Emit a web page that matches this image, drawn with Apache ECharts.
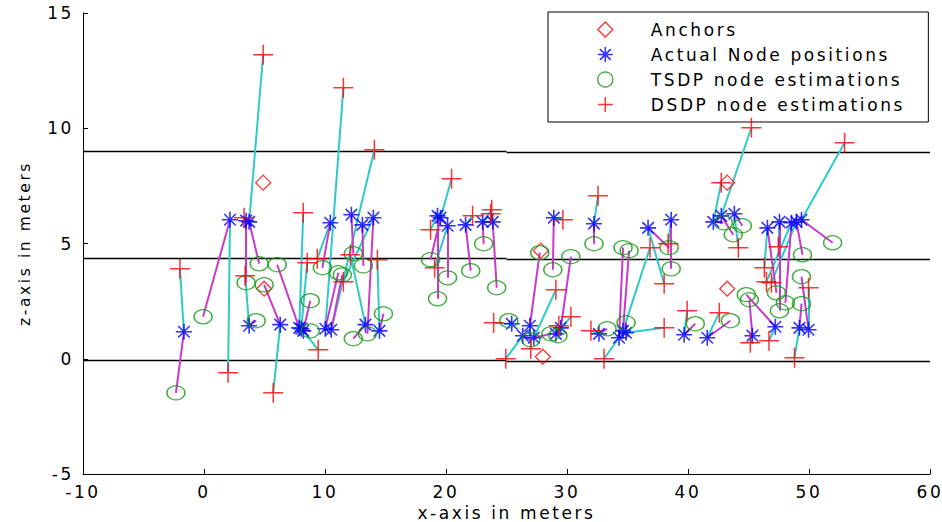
<!DOCTYPE html>
<html>
<head>
<meta charset="utf-8">
<script src="https://cdn.jsdelivr.net/npm/echarts@6/dist/echarts.min.js"></script>
<style>
  html, body { margin: 0; padding: 0; background: #fff; }
  #chart { width: 942px; height: 522px; }
  #chart text { letter-spacing: 2.6px; }
</style>
</head>
<body>
<div id="chart"></div>
<script>
// Anchor nodes (known positions), metres
const anchorX = [4.89, 4.97, 27.84, 28.00, 43.24, 43.24];
const anchorZ = [7.64, 3.04, 4.69, 0.09, 7.64, 3.04];

// True node positions
const actualX = [-1.66, 2.15, 3.48, 3.73, 3.73, 6.30, 7.87, 8.20, 8.04, 10.02, 10.52, 10.44, 12.18, 13.09, 14.00, 13.34, 14.50,
  19.30, 19.55, 20.13, 21.62, 23.03, 23.86, 25.43, 26.35, 26.93, 27.26, 28.91, 29.49, 29.08, 32.23, 32.64, 34.30, 34.63,
  34.88, 36.70, 38.61, 39.68, 41.59, 42.09, 42.75, 43.83, 45.32, 47.22, 46.56, 47.56, 48.55, 48.96, 49.38, 49.21, 49.96];
const actualZ = [1.17, 6.03, 5.99, 5.94, 1.43, 1.48, 1.34, 1.21, 1.30, 1.30, 1.26, 5.90, 6.25, 5.81, 6.12, 1.48, 1.21,
  6.20, 6.12, 5.77, 5.81, 5.94, 5.94, 1.52, 1.00, 1.43, 0.91, 6.12, 1.34, 1.08, 5.86, 1.08, 0.91, 1.21,
  1.13, 5.68, 6.03, 1.04, 0.91, 5.94, 6.20, 6.29, 1.00, 1.39, 5.68, 5.94, 5.90, 5.94, 6.03, 1.34, 1.26];

// TSDP estimates (same node order)
const tsdpX = [-2.32, -0.08, 3.48, 4.56, 4.31, 4.97, 6.05, 8.78, 8.78, 11.10, 11.43, 9.78, 12.34, 13.17, 13.50, 12.34, 14.83,
  19.30, 18.72, 20.13, 22.04, 23.11, 24.19, 25.19, 27.01, 27.75, 28.67, 28.83, 30.32, 29.25, 32.23, 33.31, 34.63, 35.13,
  34.88, 38.44, 38.61, 40.60, 43.50, 42.92, 43.74, 44.49, 45.07, 44.82, 47.31, 47.56, 48.05, 49.46, 51.95, 49.38, 49.38];
const tsdpZ = [-1.48, 1.82, 3.30, 4.12, 1.65, 3.21, 4.08, 2.52, 1.21, 3.73, 3.64, 3.95, 4.56, 4.03, 1.08, 0.87, 1.95,
  2.60, 4.30, 3.51, 3.82, 4.99, 3.08, 1.65, 0.82, 4.60, 1.08, 3.86, 4.43, 1.00, 4.99, 1.30, 4.82, 4.69,
  1.56, 4.82, 3.90, 1.52, 1.65, 5.90, 5.38, 5.77, 2.56, 2.78, 2.86, 2.08, 2.43, 4.51, 5.03, 2.39, 3.56];

// DSDP estimates (null where no estimate is drawn)
const dsdpX = [-1.99, 1.99, 3.31, 4.89, 3.40, 5.72, 8.20, 9.44, 8.53, 11.52, 14.08, 9.36, null, null, 11.52, 12.10, 14.33,
  18.72, 20.46, 19.06, 22.20, 23.78, 23.69, 23.94, 24.94, 27.01, 29.08, 29.66, 30.32, 29.33, 32.56, 31.98, 33.06, 36.86,
  38.03, 38.03, 38.36, 39.93, 42.59, 42.75, 45.24, 44.16, 45.15, 46.69, 46.31, 47.47, 46.48, 46.89, 52.94, 48.80, 49.96];
const dsdpZ = [3.90, -0.61, 6.12, 13.19, 3.60, -1.48, 6.33, 0.39, 4.16, 11.76, 9.07, 4.34, null, null, 3.34, 4.51, 4.30,
  5.60, 7.81, 3.95, 6.20, 6.46, 6.29, 1.56, 0.00, 0.43, 2.99, 6.03, 1.82, 1.43, 7.07, 1.21, 0.00, 4.82,
  1.34, 3.25, 4.99, 2.08, 2.00, 7.64, 10.02, 4.82, 0.69, 0.78, 3.95, 4.86, 3.34, 3.30, 9.37, 0.04, 3.08];

// Floor levels, drawn in two halves split at floorSplitX
const floorLeftZ = [9.02, 4.37, -0.05];
const floorRightZ = [8.98, 4.33, -0.10];
const floorSplitX = 25;

// Axis ticks
const xTicks = { min: -10, max: 60, step: 10 };
const zTicks = { min: -5, max: 15, step: 5 };

const FONT = 'DejaVu Sans';
const starPath = 'path://M0,-10L0,10M-10,0L10,0M-7.2,-7.2L7.2,7.2M-7.2,7.2L7.2,-7.2';
const plusPath = 'path://M0,-10L0,10M-10,0L10,0';

const pairs = (xs, zs) => xs.map((x, i) => (x == null ? null : [x, zs[i]])).filter(p => p);

const floorSegs = [];
floorLeftZ.forEach((z, i) => {
  floorSegs.push({ coords: [[xTicks.min, z], [floorSplitX, z]] });
  floorSegs.push({ coords: [[floorSplitX, floorRightZ[i]], [xTicks.max, floorRightZ[i]]] });
});
const cyanSegs = [];
const magentaSegs = [];
actualX.forEach((x, i) => {
  magentaSegs.push({ coords: [[x, actualZ[i]], [tsdpX[i], tsdpZ[i]]] });
  if (dsdpX[i] != null) cyanSegs.push({ coords: [[x, actualZ[i]], [dsdpX[i], dsdpZ[i]]] });
});

const styles = {
  anchor: { color: 'rgba(0,0,0,0)', borderColor: '#ff0000', borderWidth: 1.3 },
  actual: { color: 'rgba(0,0,0,0)', borderColor: '#0000ff', borderWidth: 1.6 },
  tsdp: { color: 'rgba(0,0,0,0)', borderColor: '#119911', borderWidth: 1.4 },
  dsdp: { color: 'rgba(0,0,0,0)', borderColor: '#ff0000', borderWidth: 1.5 }
};

const chart = echarts.init(document.getElementById('chart'), null, { renderer: 'svg' });
chart.setOption({
  animation: false,
  backgroundColor: '#fff',
  grid: { left: 83, right: 12, top: 13, bottom: 48, outerBoundsMode: 'none', containLabel: false },
  legend: {
    orient: 'vertical', left: 548, top: 12,
    padding: [9, 78, 9, 49], itemGap: 8, itemWidth: 15, itemHeight: 15,
    backgroundColor: '#fff', borderColor: '#000', borderWidth: 1, borderRadius: 0,
    selectedMode: false,
    textStyle: { fontFamily: FONT, fontSize: 17, color: '#000', padding: [0, 0, 0, 33] },
    data: [
      { name: 'Anchors', icon: 'diamond', itemStyle: styles.anchor },
      { name: 'Actual Node positions', icon: starPath, itemStyle: styles.actual },
      { name: 'TSDP node estimations', icon: 'circle', itemStyle: styles.tsdp },
      { name: 'DSDP node estimations', icon: plusPath, itemStyle: styles.dsdp }
    ]
  },
  xAxis: {
    type: 'value', min: xTicks.min, max: xTicks.max, interval: xTicks.step,
    name: 'x-axis in meters', nameLocation: 'middle', nameGap: 29,
    nameTextStyle: { fontFamily: FONT, fontSize: 17, color: '#000' },
    axisLine: { onZero: false, lineStyle: { color: '#000', width: 1 } },
    axisTick: { inside: true, length: 5, lineStyle: { color: '#000' } },
    axisLabel: { margin: 9, fontFamily: FONT, fontSize: 17, color: '#000', showMinLabel: true, showMaxLabel: true },
    splitLine: { show: false }
  },
  yAxis: {
    type: 'value', min: zTicks.min, max: zTicks.max, interval: zTicks.step,
    name: 'z-axis in meters', nameLocation: 'middle', nameGap: 50,
    nameTextStyle: { fontFamily: FONT, fontSize: 15.5, color: '#000' },
    axisLine: { onZero: false, lineStyle: { color: '#000', width: 1 } },
    axisTick: { inside: true, length: 5, lineStyle: { color: '#000' } },
    axisLabel: { margin: 9, fontFamily: FONT, fontSize: 17, color: '#000', showMinLabel: true, showMaxLabel: true },
    splitLine: { show: false }
  },
  series: [
    { type: 'lines', coordinateSystem: 'cartesian2d', silent: true, z: 1, data: floorSegs,
      lineStyle: { color: '#000', width: 1.4, opacity: 1 } },
    { type: 'lines', coordinateSystem: 'cartesian2d', silent: true, z: 2, data: cyanSegs,
      lineStyle: { color: '#2ec9c9', width: 2, opacity: 1 } },
    { type: 'lines', coordinateSystem: 'cartesian2d', silent: true, z: 2, data: magentaSegs,
      lineStyle: { color: '#c93ac9', width: 2, opacity: 1 } },
    { name: 'Anchors', type: 'scatter', z: 3, symbol: 'diamond', symbolSize: 15,
      itemStyle: styles.anchor, data: pairs(anchorX, anchorZ) },
    { name: 'Actual Node positions', type: 'scatter', z: 4, symbol: starPath, symbolSize: 16,
      itemStyle: styles.actual, data: pairs(actualX, actualZ) },
    { name: 'TSDP node estimations', type: 'scatter', z: 4, symbol: 'circle', symbolSize: [18, 14],
      itemStyle: styles.tsdp, data: pairs(tsdpX, tsdpZ) },
    { name: 'DSDP node estimations', type: 'scatter', z: 4, symbol: plusPath, symbolSize: 20,
      itemStyle: styles.dsdp, data: pairs(dsdpX, dsdpZ) }
  ]
});
</script>
</body>
</html>
